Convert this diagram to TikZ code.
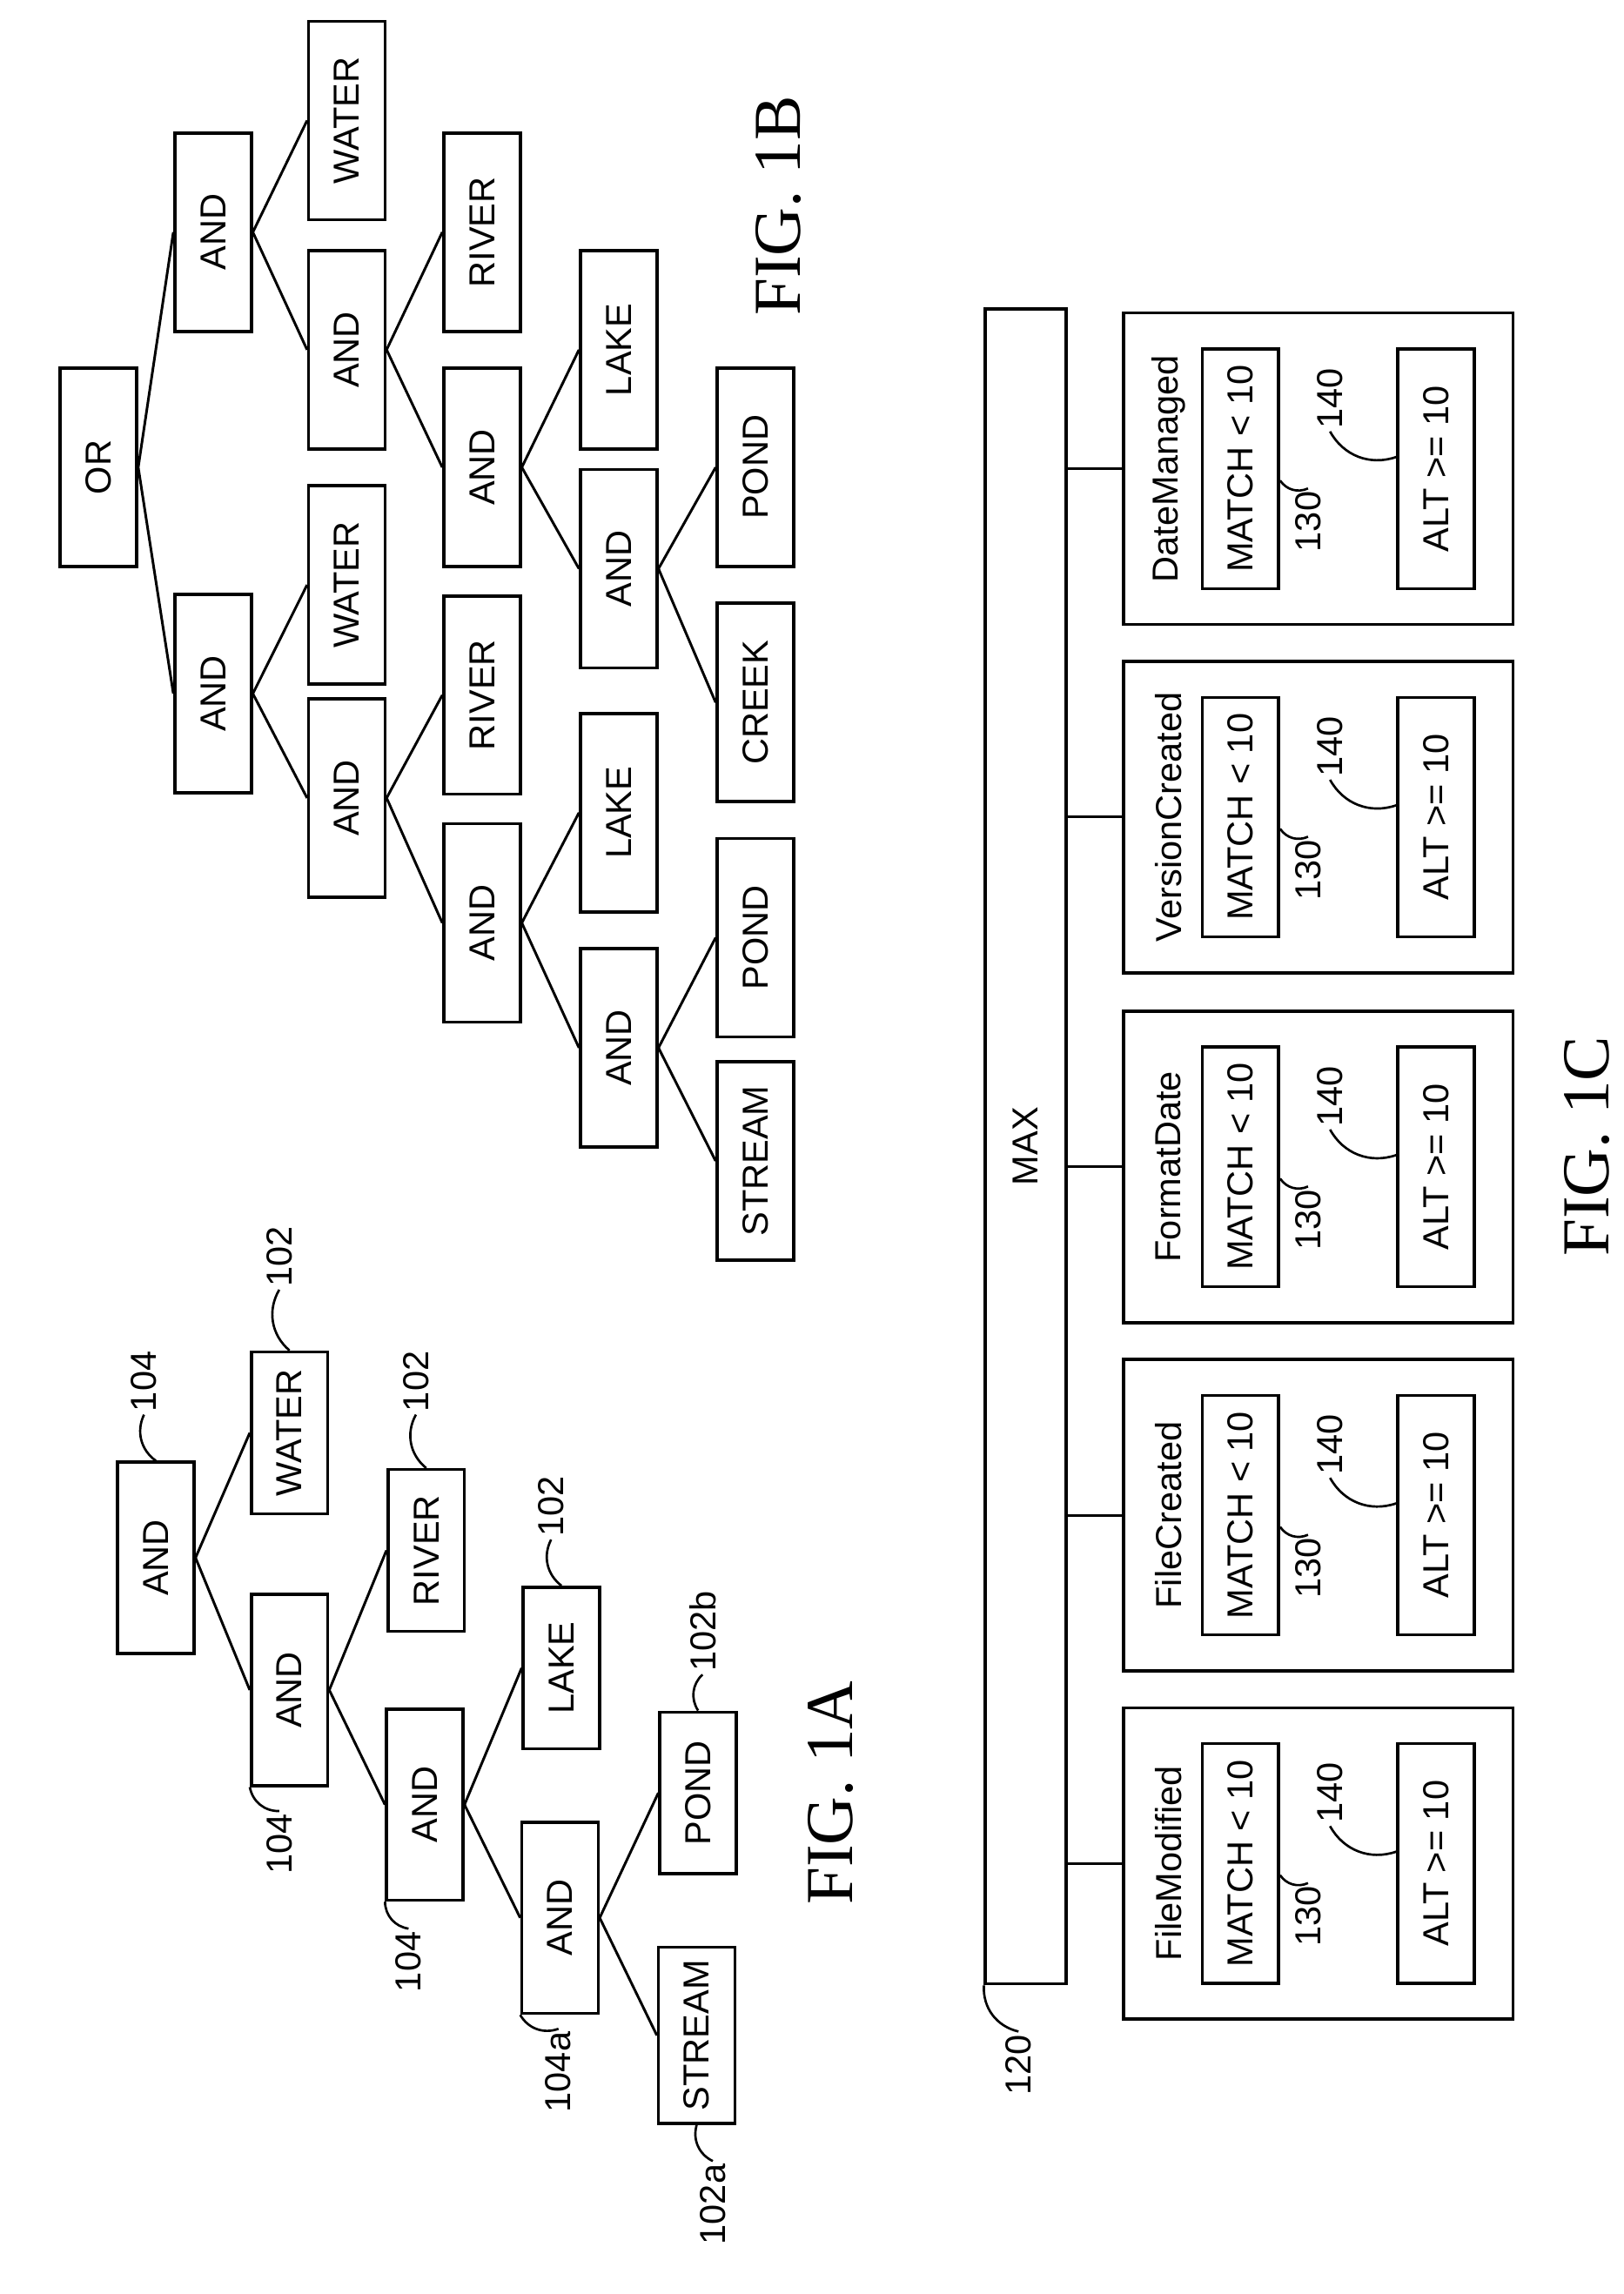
\documentclass[tikz,border=0pt]{standalone}
\usepackage{fontspec}
\setsansfont{Liberation Sans}
\setmainfont{Liberation Serif}
\usetikzlibrary{positioning,calc}
\begin{document}
\begin{tikzpicture}[
        x=0.02cm, y=-0.02cm,
        % boxes are drawn turned, text runs bottom to top
        blk/.style={rectangle, draw, line width=1.2pt, rotate=90, inner sep=0pt,
            minimum height=1.04cm, minimum width=#1,
            font=\sffamily\fontsize{14}{16}\selectfont},
        blk/.default=2.7cm,
        num/.style={rotate=90, inner sep=1pt, font=\sffamily\fontsize{14}{16}\selectfont},
        fig/.style={rotate=90, font=\rmfamily\fontsize{26}{28}\selectfont},
        edge/.style={line width=1pt},
        lead/.style={line width=0.9pt}
    ]
        \useasboundingbox (0,0) rectangle (1105,1561);

        % FIG. 1A
        \node[blk=2.6cm] (aA1) at (106,1060) {AND};
        \node[blk=2.2cm] (wA) at (197,975) {WATER};
        \node[blk=2.6cm] (aA2) at (197,1150) {AND};
        \node[blk=2.2cm] (rA) at (290,1055) {RIVER};
        \node[blk=2.6cm] (aA3) at (289,1228) {AND};
        \node[blk=2.2cm] (lA) at (382,1135) {LAKE};
        \node[blk=2.6cm] (aA4) at (381,1305) {AND};
        \node[blk=2.2cm] (pA) at (475,1220) {POND};
        \node[blk=2.4cm] (sA) at (474,1385) {STREAM};
        \draw[edge] (aA1.south) -- (wA.north);
        \draw[edge] (aA1.south) -- (aA2.north);
        \draw[edge] (aA2.south) -- (rA.north);
        \draw[edge] (aA2.south) -- (aA3.north);
        \draw[edge] (aA3.south) -- (lA.north);
        \draw[edge] (aA3.south) -- (aA4.north);
        \draw[edge] (aA4.south) -- (pA.north);
        \draw[edge] (aA4.south) -- (sA.north);

        \node[num] (nA1) at (98,940) {104};
        \node[num] (nW) at (190,855) {102};
        \node[num] (nA2) at (190,1255) {104};
        \node[num] (nA3) at (278,1335) {104};
        \node[num] (nR) at (283,940) {102};
        \node[num] (nL) at (375,1025) {102};
        \node[num] (nA4) at (380,1410) {104a};
        \node[num] (nP) at (478,1110) {102b};
        \node[num] (nS) at (485,1500) {102a};
        \draw[lead] (nA1.west) to[bend right=40] (aA1.east);
        \draw[lead] (nW.west) to[bend right=40] (wA.east);
        \draw[lead] (nA2.east) to[bend left=40] (aA2.north west);
        \draw[lead] (nA3.east) to[bend left=40] (aA3.north west);
        \draw[lead] (nR.west) to[bend right=40] (rA.east);
        \draw[lead] (nL.west) to[bend right=40] (lA.east);
        \draw[lead] (nA4.east) to[bend left=40] (aA4.north west);
        \draw[lead] (nP.west) to[bend right=40] (pA.east);
        \draw[lead] (nS.east) to[bend left=40] (sA.west);
        \node[fig] (figA) at (565,1220) {FIG. 1A};

        % FIG. 1B
        \node[blk] (or) at (67,318) {OR};
        \node[blk] (bL0) at (145,472) {AND};
        \node[blk] (bR0) at (145,158) {AND};
        \node[blk] (wL) at (236,398) {WATER};
        \node[blk] (bL1) at (236,543) {AND};
        \node[blk] (rL) at (328,473) {RIVER};
        \node[blk] (bL2) at (328,628) {AND};
        \node[blk] (lL) at (421,553) {LAKE};
        \node[blk] (bL3) at (421,713) {AND};
        \node[blk] (pL) at (514,638) {POND};
        \node[blk] (sL) at (514,790) {STREAM};
        \node[blk] (wR) at (236,82) {WATER};
        \node[blk] (bR1) at (236,238) {AND};
        \node[blk] (rR) at (328,158) {RIVER};
        \node[blk] (bR2) at (328,318) {AND};
        \node[blk] (lR) at (421,238) {LAKE};
        \node[blk] (bR3) at (421,387) {AND};
        \node[blk] (pR) at (514,318) {POND};
        \node[blk] (cR) at (514,478) {CREEK};
        \foreach \p/\c in {or/bL0, or/bR0, bL0/wL, bL0/bL1, bL1/rL, bL1/bL2, bL2/lL, bL2/bL3,
                bL3/pL, bL3/sL, bR0/wR, bR0/bR1, bR1/rR, bR1/bR2, bR2/lR, bR2/bR3, bR3/pR, bR3/cR}
            \draw[edge] (\p.south) -- (\c.north);
        \node[fig] (figB) at (530,140) {FIG. 1B};

        % FIG. 1C
        \node[blk=22.8cm, minimum height=1.1cm] (max) at (698,780) {MAX};
        \node[num] (n120) at (693,1405) {120};
        \draw[lead] (n120.east) to[bend left=40] (max.north west);
        \foreach \name/\yc [count=\i] in {DateManaged/319, VersionCreated/556, FormatDate/794,
                FileCreated/1031, FileModified/1268} {
            \node[blk=4.24cm, minimum height=5.3cm] (out\i) at (897,\yc) {};
            \node[num] (lab\i) at (795,\yc) {\name};
            \node[blk=3.26cm] (mt\i) at (844,\yc) {MATCH < 10};
            \node[blk=3.26cm] (alt\i) at (977,\yc) {ALT >= 10};
            \node[num] (n130\i) at (890,\yc+36) {130};
            \node[num] (n140\i) at (905,\yc-48) {140};
            \draw[lead] (n130\i.east) to[bend left=40] ($(mt\i.south)+(0,8)$);
            \draw[lead] (n140\i.west) to[bend right=40] ($(alt\i.north)+(0,-8)$);
            \draw[edge] (max.south |- out\i.north) -- (out\i.north);
        }
        \node[fig] (figC) at (1080,780) {FIG. 1C};
    \end{tikzpicture}
\end{document}
